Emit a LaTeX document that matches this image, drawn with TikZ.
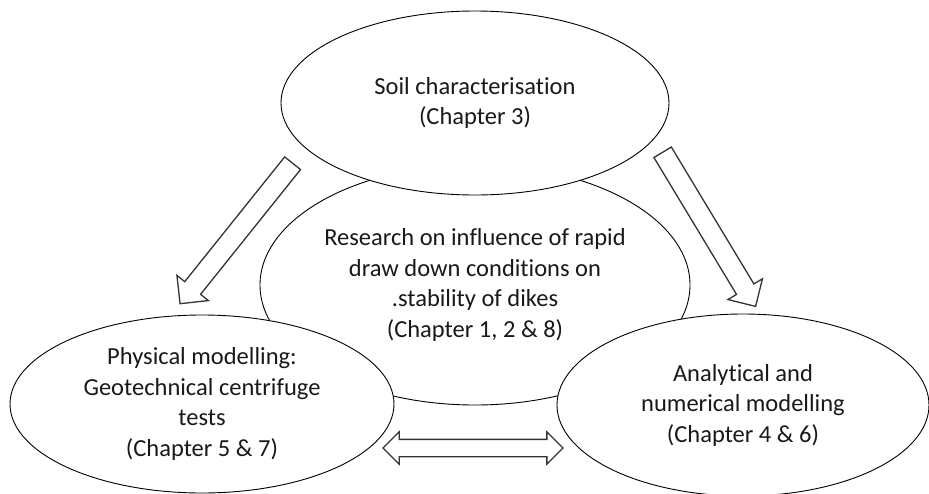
\documentclass[tikz,border=0pt]{standalone}
\usepackage{fontspec}
\setmainfont{Carlito}[Ligatures=NoCommon]
\usetikzlibrary{shapes.geometric,shapes.arrows}

\tikzset{
  bubble/.style={ellipse, draw, fill=white, line width=0.9pt, inner sep=0pt},
  caption/.style={align=center, text=black!90},
  fatarrow/.style={single arrow, draw=black!80, line width=1.3pt, fill=white,
    inner xsep=0pt, inner ysep=9.5pt, minimum height=180pt,
    single arrow head extend=10pt},
}

\begin{document}
\begin{tikzpicture}[x=1pt, y=-1pt, font=\fontsize{24.5}{30.5}\selectfont]
  \useasboundingbox (0,0) rectangle (929,493);

  % Research topic in the middle
  \node[bubble, minimum width=430, minimum height=240,
        label={[caption]center:Research on influence of rapid\\draw down conditions on\\.stability of dikes\\(Chapter 1, 2 \& 8)}]
        (research) at (475,285) {};

  % The three parts around it
  \node[bubble, minimum width=388, minimum height=184,
        label={[caption]center:Soil characterisation\\(Chapter 3)}]
        (soil) at (475,103) {};
  \node[bubble, minimum width=384, minimum height=178,
        label={[caption]center:Physical modelling:\\Geotechnical centrifuge\\tests\\(Chapter 5 \& 7)}]
        (physical) at (202,404) {};
  \node[bubble, minimum width=372, minimum height=182,
        label={[caption]center:Analytical and\\numerical modelling\\(Chapter 4 \& 6)}]
        (analytical) at (743,405) {};

  % Block arrows
  \node[fatarrow, rotate=231.3] (toPhysical) at (239.5,229.5) {};
  \node[fatarrow, rotate=-58.9] (toAnalytical) at (706.5,225) {};
  \node[double arrow, draw=black!80, line width=1.3pt, fill=white,
        inner xsep=0pt, inner ysep=8pt, minimum height=180pt,
        double arrow head extend=7.5pt]
        (exchange) at (473,448) {};
\end{tikzpicture}
\end{document}
